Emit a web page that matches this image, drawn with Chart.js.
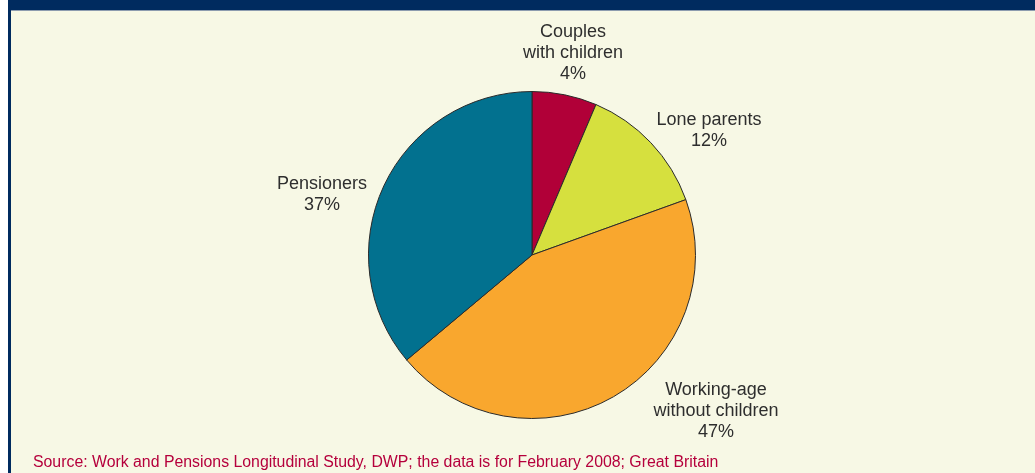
<!DOCTYPE html>
<html>
<head>
<meta charset="utf-8">
<script src="https://cdn.jsdelivr.net/npm/chart.js@4.4.0/dist/chart.umd.min.js"></script>
<style>
  html, body { margin: 0; padding: 0; background: #ffffff; }
  #frame { position: relative; width: 1035px; height: 473px; overflow: hidden; background: #ffffff; }
  #topbar { position: absolute; left: 8px; top: 0; width: 1027px; height: 10px; background: #002b5f; border-bottom: 1px solid #8d9caf; }
  #leftbar { position: absolute; left: 8px; top: 0; width: 3px; height: 473px; background: #002b5f; }
  #panel { position: absolute; left: 11px; top: 11px; width: 1024px; height: 462px; background: #f7f8e5; }
  #source { position: absolute; left: 33px; top: 453px; font-family: "Liberation Sans", Arial, sans-serif; font-size: 16px; color: #b5003c; white-space: nowrap; transform-origin: left top; transform: scaleX(0.99); }
  canvas { position: absolute; left: 0; top: 0; }
</style>
</head>
<body>
<div id="frame">
  <div id="panel"></div>
  <div id="topbar"></div>
  <div id="leftbar"></div>
  <canvas id="pieChart" width="1035" height="473"></canvas>
  <div id="source">Source: Work and Pensions Longitudinal Study, DWP; the data is for February 2008; Great Britain</div>
</div>
<script>
// categories, in drawing order (clockwise from 12 o'clock)
var categories = [
    ['Couples', 'with children'],
    ['Lone parents'],
    ['Working-age', 'without children'],
    ['Pensioners']
];
// slice sizes as drawn in the picture (share of the circle, %)
var sliceValues = [6.4, 13.1, 44.4, 36.1];
// percentages printed on the labels
var printedPercent = ['4%', '12%', '47%', '37%'];
var sliceColors = ['#b10038', '#d6e03e', '#f9a72e', '#02718f'];

// where each label's first baseline sits, relative to pie centre
var labelOffsets = [[41, -218], [177, -130], [184, 140], [-210, -66]];

var labelPlugin = {
    id: 'pieLabels',
    afterDatasetsDraw: function(chart) {
        var ctx = chart.ctx;
        var arc = chart.getDatasetMeta(0).data[0];
        var cx = arc.x, cy = arc.y;
        ctx.save();
        ctx.font = '18px "Liberation Sans", Arial, sans-serif';
        ctx.fillStyle = '#2e2e2e';
        ctx.textAlign = 'center';
        ctx.textBaseline = 'alphabetic';
        categories.forEach(function(lines, i) {
            var all = lines.concat([printedPercent[i]]);
            all.forEach(function(line, j) {
                ctx.fillText(line, cx + labelOffsets[i][0], cy + labelOffsets[i][1] + j * 21);
            });
        });
        ctx.restore();
    }
};

var ctx = document.getElementById('pieChart').getContext('2d');
var pieChart = new Chart(ctx, {
    type: 'pie',
    data: {
        labels: categories.map(function(c) { return c.join(' '); }),
        datasets: [{
            data: sliceValues,
            backgroundColor: sliceColors,
            borderColor: '#2a2a2a',
            borderWidth: 1
        }]
    },
    options: {
        responsive: false,
        animation: false,
        layout: {
            padding: { left: 368, right: 339, top: 91, bottom: 54 }
        },
        plugins: {
            legend: { display: false },
            tooltip: { enabled: false }
        }
    },
    plugins: [labelPlugin]
});
</script>
</body>
</html>
